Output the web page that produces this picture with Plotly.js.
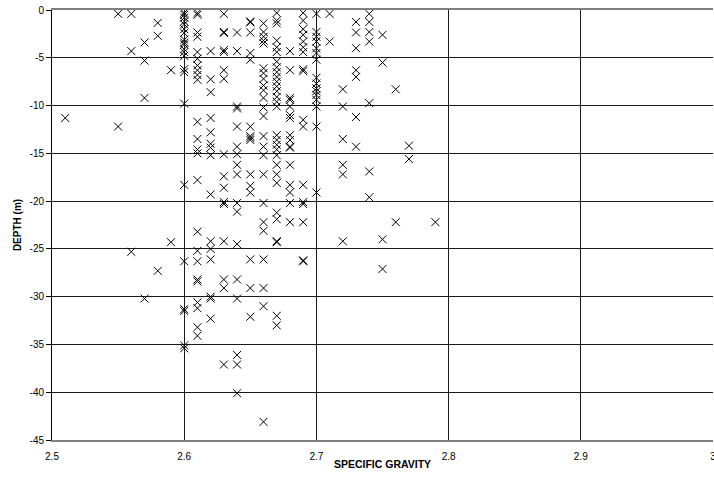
<!DOCTYPE html>
<html>
<head>
<meta charset="utf-8">
<script src="https://cdn.plot.ly/plotly-3.0.1.min.js"></script>
<style>
  html, body { margin: 0; padding: 0; background: #fff; }
  #chart { width: 714px; height: 477px; }
</style>
</head>
<body>
<div id="chart"></div>
<script>
// Specific gravity levels (x) and the depths (m) measured at each level (y)
const gravityLevels = [2.51, 2.55, 2.56, 2.57, 2.58, 2.59, 2.60, 2.61, 2.62, 2.63, 2.64, 2.65, 2.66, 2.67, 2.68, 2.69, 2.70, 2.71, 2.72, 2.73, 2.74, 2.75, 2.76, 2.77, 2.79];

const depthAt251 = [-11.3];
const depthAt255 = [-0.4, -12.2];
const depthAt256 = [-0.4, -4.3, -25.3];
const depthAt257 = [-3.4, -5.3, -9.2, -30.2];
const depthAt258 = [-1.35, -2.7, -27.3];
const depthAt259 = [-6.3, -24.3];
const depthAt260 = [-0.3, -0.5, -0.8, -1.2, -1.5, -2.0, -2.4, -3.1, -3.4, -3.6, -4.1, -4.4, -4.8, -6.2, -6.5, -9.8, -18.3, -26.3, -31.3, -31.5, -35.1, -35.4];
const depthAt261 = [-0.3, -0.5, -2.35, -2.8, -4.4, -5.1, -5.8, -6.3, -6.8, -7.3, -11.7, -13.5, -14.6, -15.0, -17.8, -23.2, -25.2, -26.3, -28.2, -28.4, -30.6, -31.2, -33.2, -34.1];
const depthAt262 = [-4.3, -7.25, -8.6, -11.3, -12.8, -14.0, -14.4, -15.2, -19.3, -24.2, -25.0, -26.1, -30.0, -30.2, -32.3];
const depthAt263 = [-0.4, -2.3, -2.4, -4.2, -4.4, -6.3, -7.2, -15.1, -17.4, -18.6, -20.1, -20.3, -24.2, -28.2, -29.1, -37.1];
const depthAt264 = [-2.35, -4.3, -10.1, -10.3, -12.2, -14.3, -15.1, -16.2, -17.2, -20.2, -21.1, -24.5, -28.2, -30.2, -36.1, -37.1, -40.1];
const depthAt265 = [-1.2, -1.3, -2.35, -4.5, -5.2, -12.2, -13.2, -13.4, -13.6, -17.2, -18.4, -19.1, -26.1, -29.1, -32.1];
const depthAt266 = [-1.4, -2.3, -2.8, -3.2, -3.5, -6.1, -6.6, -7.2, -7.9, -8.4, -9.2, -10.2, -11.1, -13.2, -14.3, -15.2, -17.2, -20.2, -22.2, -23.1, -26.1, -29.1, -31.0, -43.1];
const depthAt267 = [-0.3, -1.1, -1.4, -3.2, -3.9, -4.4, -5.4, -6.0, -6.5, -7.0, -7.5, -8.0, -8.5, -9.1, -9.6, -10.1, -13.1, -13.6, -14.1, -14.6, -15.2, -16.2, -17.2, -18.1, -21.2, -21.9, -24.2, -24.3, -32.0, -33.0];
const depthAt268 = [-4.3, -6.3, -9.2, -9.4, -10.1, -11.0, -11.3, -13.1, -13.6, -14.3, -14.4, -16.2, -18.3, -19.1, -20.2, -22.2];
const depthAt269 = [-0.3, -1.1, -2.0, -2.6, -3.3, -3.9, -4.4, -6.2, -6.4, -11.5, -12.2, -18.3, -20.1, -20.3, -22.2, -26.2, -26.3];
const depthAt270 = [-0.4, -2.3, -2.8, -3.3, -4.0, -4.5, -5.2, -7.1, -7.7, -8.2, -8.5, -8.9, -9.4, -10.1, -12.2, -19.1];
const depthAt271 = [-0.4, -3.3];
const depthAt272 = [-8.3, -10.1, -13.5, -16.2, -17.2, -24.2];
const depthAt273 = [-1.25, -2.35, -4.0, -6.3, -7.0, -11.2, -14.3];
const depthAt274 = [-0.4, -1.25, -2.3, -3.3, -9.75, -16.9, -19.6];
const depthAt275 = [-2.6, -5.5, -24.0, -27.1];
const depthAt276 = [-8.3, -22.2];
const depthAt277 = [-14.2, -15.6];
const depthAt279 = [-22.2];

const depthColumns = [depthAt251, depthAt255, depthAt256, depthAt257, depthAt258, depthAt259,
  depthAt260, depthAt261, depthAt262, depthAt263, depthAt264, depthAt265, depthAt266, depthAt267,
  depthAt268, depthAt269, depthAt270, depthAt271, depthAt272, depthAt273, depthAt274, depthAt275,
  depthAt276, depthAt277, depthAt279];

const xTickVals = [2.5, 2.6, 2.7, 2.8, 2.9, 3.0];
const xTickText = ['2.5', '2.6', '2.7', '2.8', '2.9', '3'];
const yTickVals = [0, -5, -10, -15, -20, -25, -30, -35, -40, -45];
const yTickText = ['0', '-5', '-10', '-15', '-20', '-25', '-30', '-35', '-40', '-45'];

const xs = [], ys = [];
gravityLevels.forEach((g, i) => {
  depthColumns[i].forEach(d => { xs.push(g); ys.push(d); });
});

const trace = {
  type: 'scatter',
  mode: 'markers',
  x: xs,
  y: ys,
  marker: {
    symbol: 'x-thin-open',
    size: 8,
    color: '#000',
    line: { color: '#000', width: 1 }
  },
  hoverinfo: 'x+y',
  showlegend: false
};

const fontFam = '"Liberation Sans", Arial, sans-serif';

const layout = {
  width: 714,
  height: 477,
  margin: { l: 52, r: 1, t: 10, b: 37, pad: 0 },
  paper_bgcolor: '#fff',
  plot_bgcolor: '#fff',
  font: { family: fontFam, size: 10, color: '#000' },
  xaxis: {
    range: [2.5, 3.0],
    tickmode: 'array',
    tickvals: xTickVals,
    ticktext: xTickText,
    showgrid: true,
    gridcolor: '#1a1a1a',
    gridwidth: 1,
    zeroline: false,
    showline: true,
    linecolor: '#7f7f7f',
    linewidth: 2,
    mirror: true,
    ticks: '',
    ticklabeloverflow: 'allow',
    ticklabelstandoff: 6,
    tickfont: { family: fontFam, size: 10, color: '#000' },
    title: { text: '<b>SPECIFIC GRAVITY</b>', font: { family: fontFam, size: 10.5, color: '#000' }, standoff: 0 },
    automargin: false
  },
  yaxis: {
    range: [-45, 0],
    tickmode: 'array',
    tickvals: yTickVals,
    ticktext: yTickText,
    showgrid: true,
    gridcolor: '#1a1a1a',
    gridwidth: 1,
    zeroline: false,
    showline: true,
    linecolor: '#000',
    linewidth: 1,
    ticks: 'outside',
    ticklen: 5,
    tickcolor: '#000',
    tickfont: { family: fontFam, size: 10, color: '#000' },
    title: { text: '<b>DEPTH (m)</b>', font: { family: fontFam, size: 10, color: '#000' }, standoff: 6 },
    automargin: false
  }
};

Plotly.newPlot('chart', [trace], layout, { displayModeBar: false, staticPlot: true });
</script>
</body>
</html>
